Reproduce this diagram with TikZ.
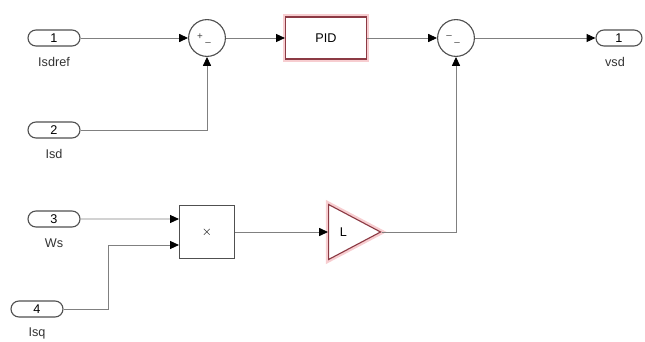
\documentclass[tikz,border=0pt]{standalone}
\usepackage{fontspec}
\setmainfont{Liberation Sans}
\usetikzlibrary{arrows.meta, shapes.geometric, calc}
\definecolor{cline}{HTML}{808080}
\definecolor{cedge}{HTML}{505050}
\definecolor{cglow}{HTML}{F7CDD0}
\definecolor{cred}{HTML}{8C3A44}
\tikzset{
  every picture/.style={font=\small},
  port/.style={draw=cedge, fill=white, rounded corners=2mm, minimum width=1.3cm, minimum height=0.4cm, inner sep=0pt, line width=0.8pt, font=\small},
  portlabel/.style={font=\small, text=black!80, inner sep=0pt},
  sumnode/.style={circle, draw=cedge, fill=white, minimum size=0.92cm, inner sep=0pt, line width=0.8pt},
  block/.style={draw=cedge, fill=white, minimum width=#1, inner sep=0pt, line width=0.8pt},
  glow/.style={draw=cred, preaction={draw=cglow, line width=4pt}},
  signal/.style={draw=cline, line width=0.6pt, -{Triangle[length=2.2mm, width=2mm, color=black]}},
  sign/.style={font=\scriptsize, inner sep=0pt, text=black!75},
}

\begin{document}
\begin{tikzpicture}[x=0.025cm, y=-0.025cm]
  \useasboundingbox (0,0) rectangle (645,342);
  % inports and outport
  \foreach \n/\x/\y/\t in {1/54/38/Isdref, 2/54/130/Isd, 3/54/219/Ws, 4/37/309/Isq} {
    \node[port] (in\n) at (\x,\y) {\n};
    \node[portlabel] (lab\n) at (\x,\y+24) {\t};
  }
  \node[port, minimum width=1.15cm] (out1) at (619,38) {1};
  \node[portlabel] (labout) at (615,62) {vsd};

  % blocks
  \node[sumnode] (sum1) at (207,38) {};
  \node[sign] (sum1a) at ($(sum1)+(-7,-1)$) {+};
  \node[sign] (sum1b) at ($(sum1)+(1,6)$) {--};
  \node[block=2.025cm, minimum height=1.05cm, glow] (pid) at (326,38) {PID};
  \node[sumnode] (sum2) at (456,38) {};
  \node[sign] (sum2a) at ($(sum2)+(-7,-1)$) {--};
  \node[sign] (sum2b) at ($(sum2)+(1,6)$) {--};
  \node[block=1.375cm, minimum height=1.325cm] (prod) at (207,232) {$\times$};
  \node[isosceles triangle, isosceles triangle stretches, shape border rotate=0,
        minimum width=1.375cm, minimum height=1.3cm, fill=white, glow,
        inner sep=1pt, line width=0.8pt, anchor=west] (gain) at (328,232) {L};

  \coordinate (prodin1) at ($(prod.north west)!0.26!(prod.south west)$);
  \coordinate (prodin2) at ($(prod.north west)!0.74!(prod.south west)$);
  \coordinate (bend4) at (108,0);

  % signals
  \draw[signal] (in1) -- (sum1);
  \draw[signal] (in2.east) -| (sum1.south);
  \draw[signal] (sum1) -- (pid);
  \draw[signal] (pid) -- (sum2);
  \draw[signal] (sum2) -- (out1);
  \draw[signal] (in3.east) -- (prodin1);
  \draw[signal] (in4.east) -| (bend4 |- prodin2) -- (prodin2);
  \draw[signal] (prod) -- (gain.west);
  \draw[signal] (gain.apex) -| (sum2.south);
\end{tikzpicture}
\end{document}
